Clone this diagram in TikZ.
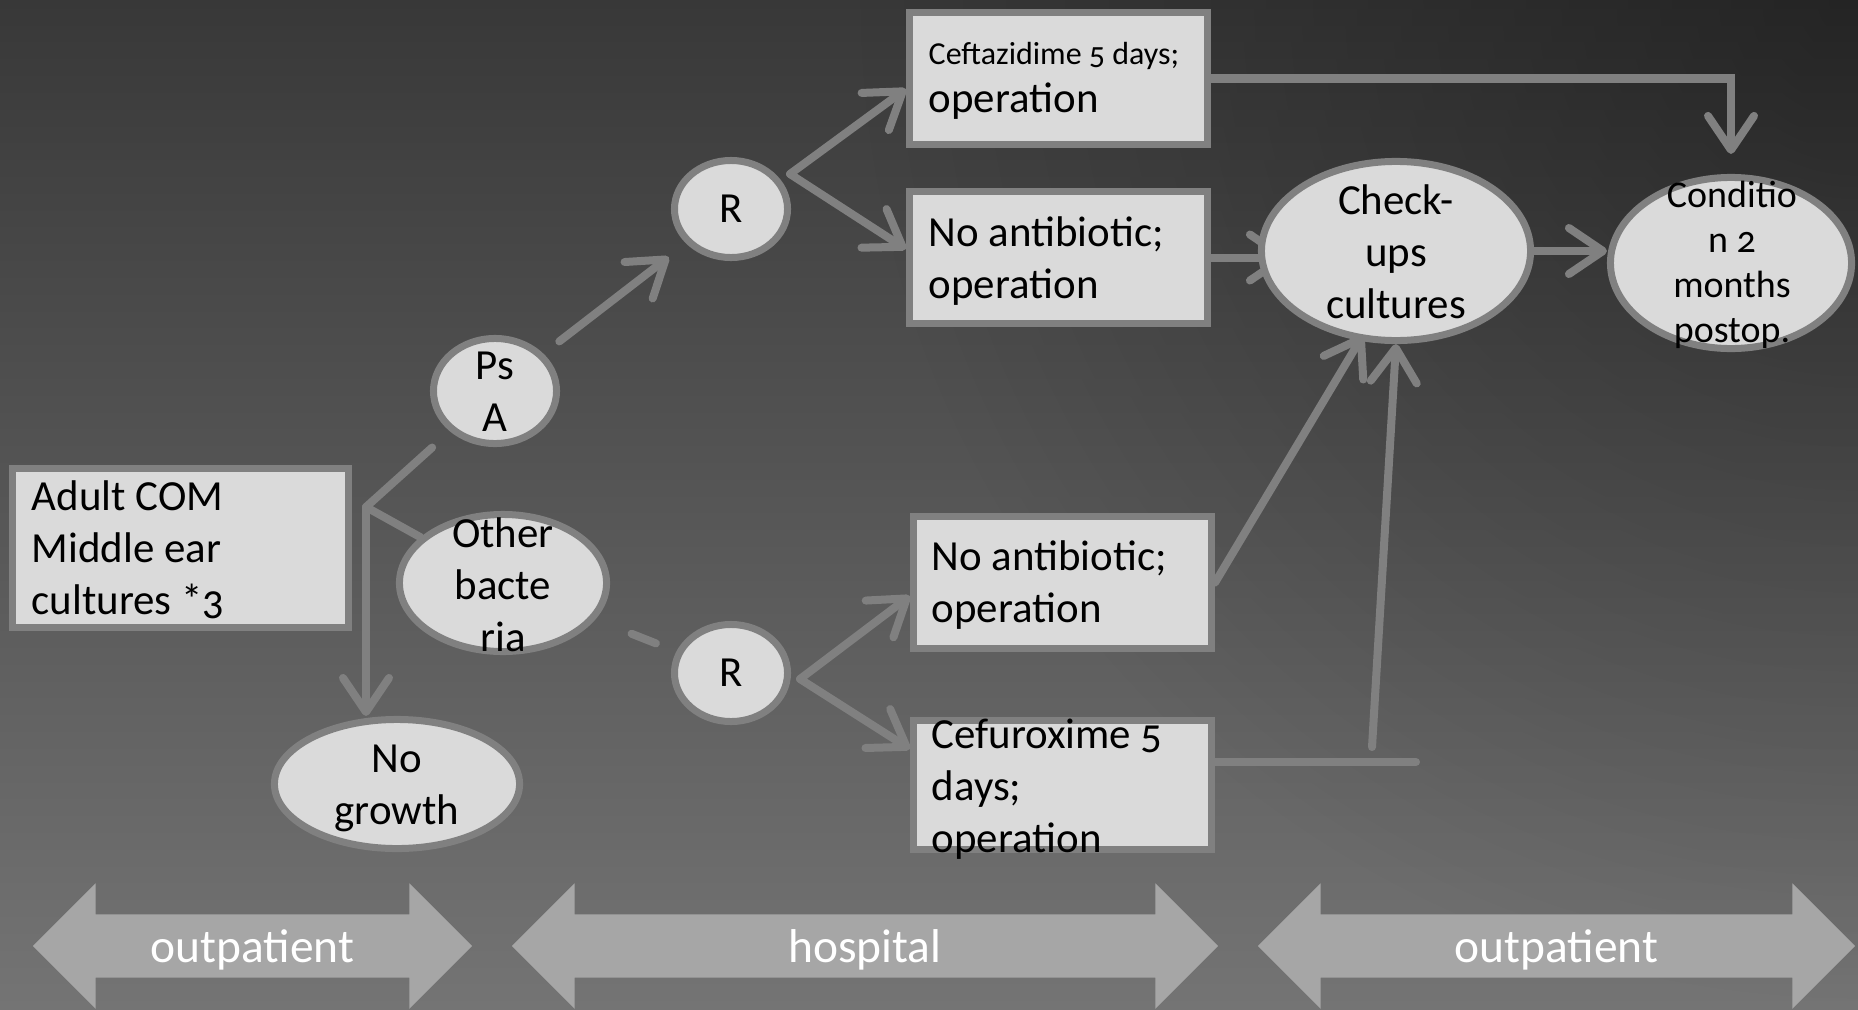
\documentclass[tikz,border=0pt]{standalone}
\usepackage{fontspec}
\setmainfont{Carlito}[Numbers=OldStyle]
\usetikzlibrary{arrows.meta,shapes.geometric,shapes.arrows,fadings}
\definecolor{bgtop}{HTML}{383838}
\definecolor{bgmid}{HTML}{4C4C4C}
\definecolor{bgbot}{HTML}{747474}
\definecolor{nodefill}{HTML}{DADADA}
\definecolor{edgegray}{HTML}{808080}
\definecolor{bandfill}{HTML}{A6A6A6}
\tikzfading[name=cornerfade, inner color=transparent!0, outer color=transparent!100]
\pgfdeclarelayer{bg}
\pgfdeclarelayer{lines}
\pgfsetlayers{bg,lines,main}
\tikzset{
  box/.style={rectangle, draw=edgegray, fill=nodefill, line width=0.07cm, inner sep=0pt},
  oval/.style={ellipse, draw=edgegray, fill=nodefill, line width=0.07cm, inner sep=0pt},
  txt/.style={inner sep=0pt, font=\fontsize{12.2}{14.8}\selectfont, text=black},
  smalltxt/.style={inner sep=0pt, font=\fontsize{10.8}{12.8}\selectfont, text=black},
  conn/.style={draw=edgegray, line width=0.08cm, line cap=round},
  arr/.style={conn, -{Straight Barb[length=0.34cm, width=0.46cm, round]}},
  band/.style={double arrow, double arrow head extend=0.31cm, fill=bandfill, draw=none,
    inner xsep=0pt, inner ysep=0pt, text height=0.47cm, text depth=0.15cm, text=white,
    font=\fontsize{13.5}{16}\selectfont},
}
\begin{document}
\begin{tikzpicture}[x=0.01cm, y=-0.01cm]
\begin{pgfonlayer}{bg}
\shade[top color=bgtop, middle color=bgmid, bottom color=bgbot] (0,0) rectangle (1858,1009);
\begin{scope}
\clip (0,0) rectangle (1858,1009);
\fill[black, opacity=0.35, path fading=cornerfade] (1858,0) circle[radius=1000];
\end{scope}
\end{pgfonlayer}
\useasboundingbox (0,0) rectangle (1858,1009);

% shapes
\node[box, minimum width=3.36cm, minimum height=1.58cm] (adult) at (180.5,548) {};
\node[oval, minimum width=1.23cm, minimum height=1.05cm] (psa) at (495,391) {};
\node[oval, minimum width=2.07cm, minimum height=1.37cm] (ob) at (503,583) {};
\node[oval, minimum width=2.45cm, minimum height=1.29cm] (ng) at (397,784) {};
\node[oval, minimum width=1.13cm, minimum height=0.97cm] (rt) at (731,209) {};
\node[oval, minimum width=1.13cm, minimum height=0.97cm] (rb) at (731,673) {};
\node[box, minimum width=2.98cm, minimum height=1.32cm] (ct) at (1058.5,78.5) {};
\node[box, minimum width=2.98cm, minimum height=1.32cm] (nat) at (1058.5,257.5) {};
\node[box, minimum width=2.98cm, minimum height=1.32cm] (nab) at (1062.5,582.5) {};
\node[box, minimum width=2.98cm, minimum height=1.29cm] (cef) at (1062.5,785) {};
\node[oval, minimum width=2.69cm, minimum height=1.79cm] (cu) at (1396,251) {};
\node[oval, minimum width=2.41cm, minimum height=1.71cm] (cond) at (1731,263) {};

% texts
\node[txt, align=left, anchor=west] (adultT) at (31,550) {Adult COM\\Middle ear\\cultures *3};
\node[txt, align=center] (psaT) at (495,392) {Ps\\A};
\node[txt, align=center] (obT) at (503,585) {Other\\bacte\\ria};
\node[txt, align=center] (ngT) at (397,788) {No\\growth};
\node[txt] (rtT) at (731,209) {R};
\node[txt] (rbT) at (731,673) {R};
\node[txt, align=left, anchor=west] (ctT) at (928,81) {{\fontsize{9.1}{10.8}\selectfont Ceftazidime 5 days;}\\[-1pt]operation};
\node[txt, align=left, anchor=west] (natT) at (928,261) {No antibiotic;\\operation};
\node[txt, align=left, anchor=west] (nabT) at (931,585) {No antibiotic;\\operation};
\node[txt, align=left, anchor=west] (cefT) at (931,789) {Cefuroxime 5\\days;\\operation};
\node[txt, align=center] (cuT) at (1396,252) {Check-\\ups\\cultures};
\node[smalltxt, align=center] (condT) at (1732,265) {Conditio\\n 2\\months\\postop.};

% bottom bands
\node[band, minimum height=4.39cm] (band1) at (252.5,946) {outpatient};
\node[band, minimum height=7.06cm] (band2) at (865,946) {hospital};
\node[band, minimum height=5.97cm] (band3) at (1556.5,946) {outpatient};

% connectors
\coordinate (j) at (366,507);
\coordinate (rtj) at (790,174);
\coordinate (rbj) at (800,679);
\coordinate (cfend) at (1416,762);
\coordinate (vstart) at (1372,747);
\coordinate (cuin) at ([xshift=0.3cm]cu.west);
\begin{pgfonlayer}{lines}
\draw[conn, shorten >=0.24cm] (j) -- (psa);
\draw[conn] (j) -- (ob);
\draw[arr] (j) -- (j |- ng.north);
\draw[arr, shorten <=0.2cm, shorten >=0.22cm] (psa) -- (rt);
\draw[arr] (rtj) -- ([yshift=-0.105cm]ct.west);
\draw[arr] (rtj) -- ([yshift=0.085cm]nat.west);
\draw[arr, shorten >=0.2cm] (ct.east) -| (cond.north);
\draw[arr] (nat.east) -- (nat.east -| cuin);
\draw[arr] (cu.east) -- (cu.east -| cond.west);
\draw[conn, shorten <=0.39cm, shorten >=0.22cm] (ob) -- (rb);
\draw[arr] (rbj) -- ([yshift=-0.135cm]nab.west);
\draw[arr] (rbj) -- ([yshift=0.36cm]cef.west);
\draw[arr] (nab.east) -- ([xshift=-0.33cm, yshift=0.09cm]cu.south);
\draw[conn] (cef.east |- cfend) -- (cfend);
\draw[arr] (vstart) -- (cu.south);
\end{pgfonlayer}
\end{tikzpicture}
\end{document}
